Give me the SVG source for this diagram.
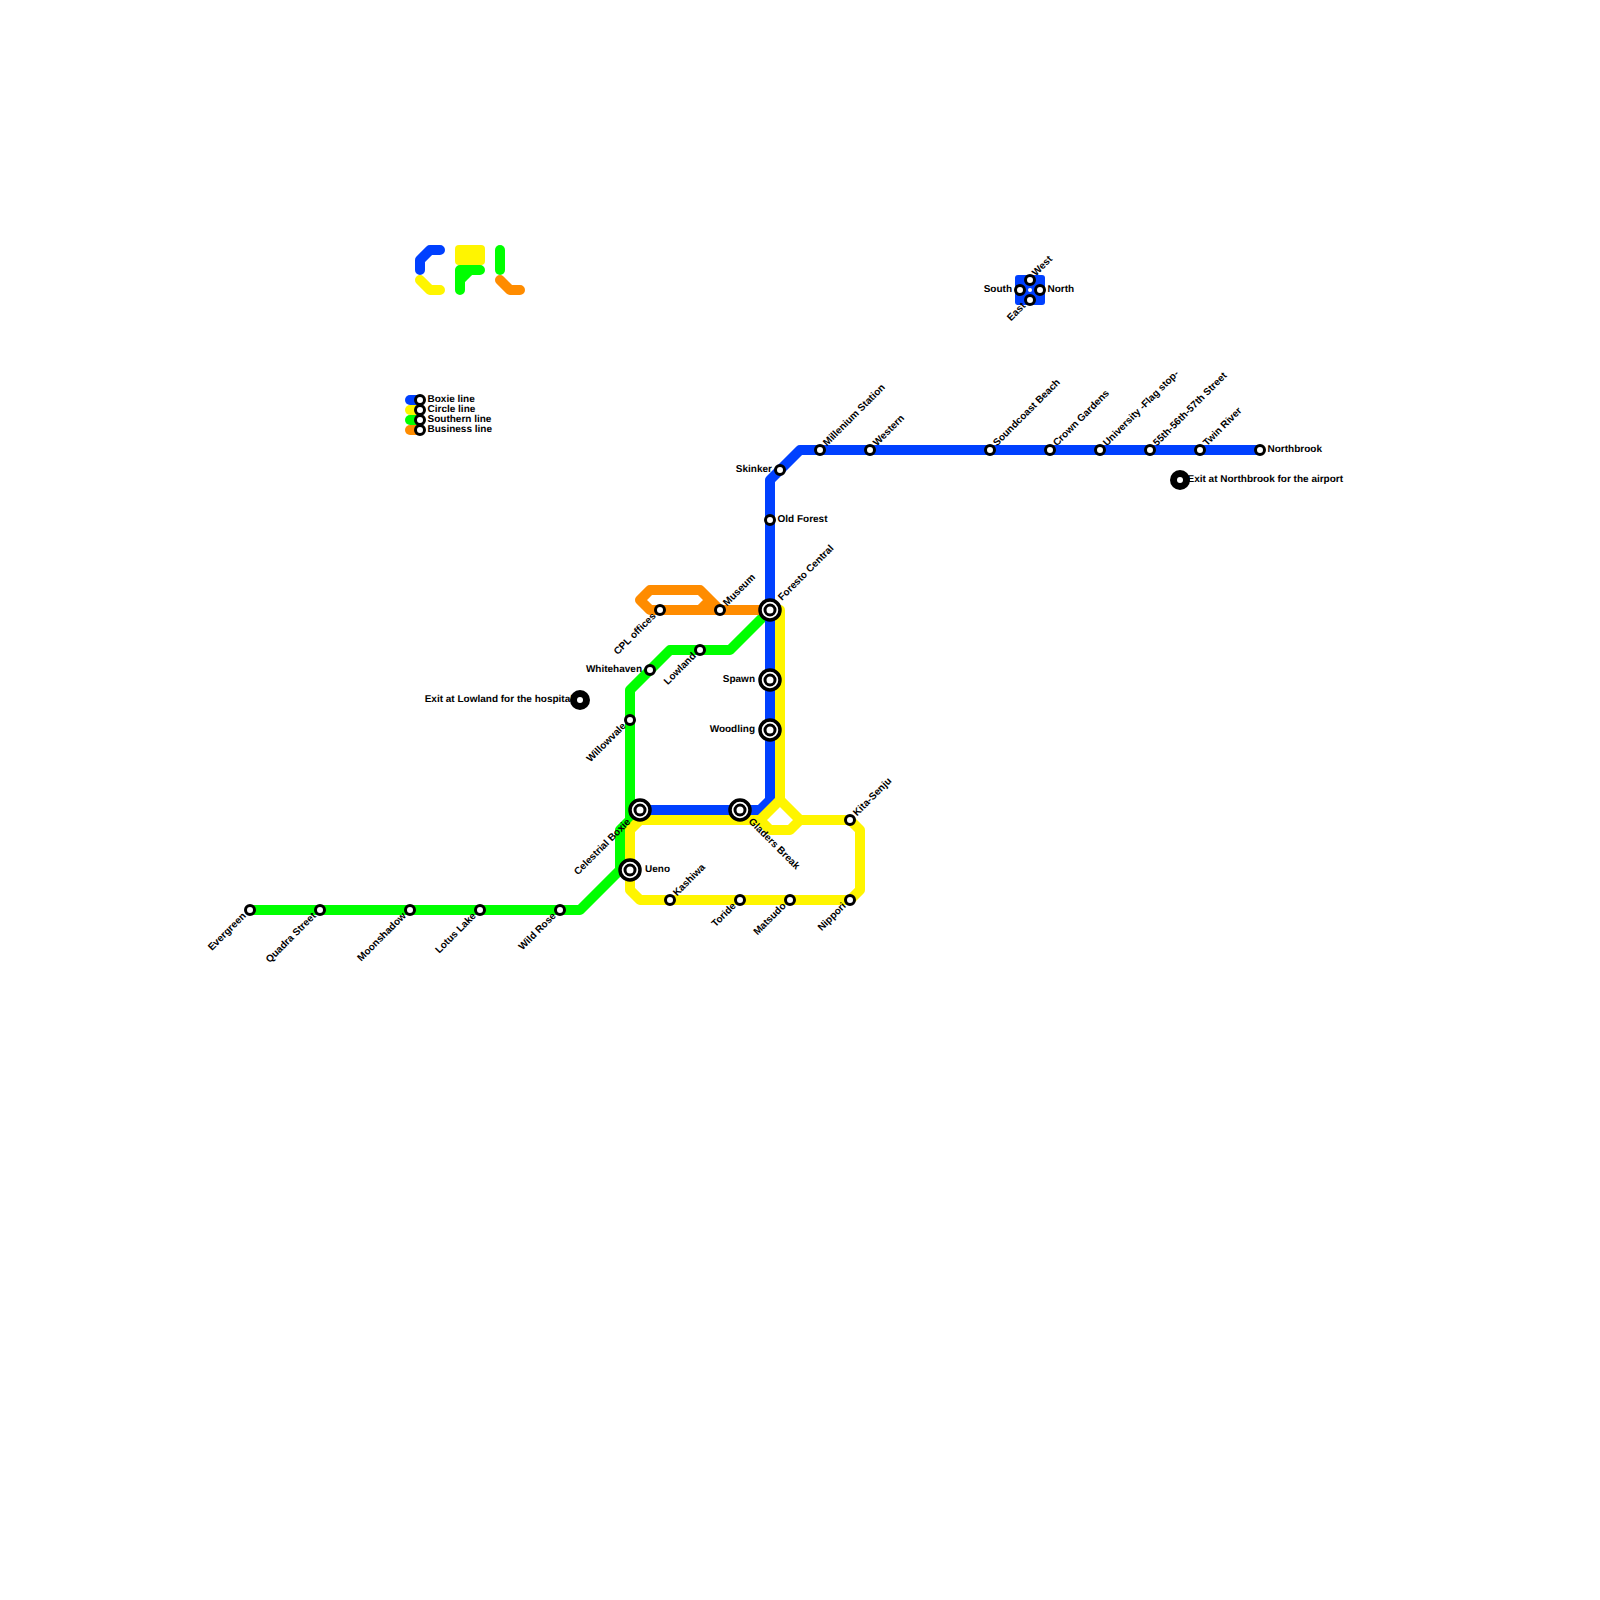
<svg xmlns="http://www.w3.org/2000/svg" width="1600" height="1600" viewBox="0 0 1600 1600">
<style>
.l{fill:none;stroke-width:10;stroke-linecap:round;stroke-linejoin:round}
.b{stroke:#0040ff}.y{stroke:#fff500}.g{stroke:#00ff00}.o{stroke:#ff8c00}
.s{fill:#fff;stroke:#000;stroke-width:3}
.r{fill:#fff;stroke:#000;stroke-width:3.5}
text{font-family:"Liberation Sans",Arial,sans-serif;font-size:10px;font-weight:700;fill:#000;text-rendering:geometricPrecision}
.e{text-anchor:end}
</style>
<defs>
<g id="st"><circle class="s" r="4.5"/></g>
<g id="ix"><circle class="r" r="10"/><circle class="s" r="5"/></g>
<g id="ex"><circle r="10" fill="#000"/><circle r="3" fill="#fff"/></g>
</defs>
<rect width="1600" height="1600" fill="#fff"/>
<g id="connectors">
<path class="l g" d="M250 910H580L620 870V830L630 820V690L670 650H730L770 610"/>
<path class="l b" d="M640 810H760L770 800V480L800 450H1260"/>
<path class="l y" d="M780 610V800L800 820H850L860 830V890L850 900H640L630 890V830L640 820H760L780 800M760 820L770 830H790L800 820"/>
<path class="l o" d="M770 610H650L640 600L650 590H700L720 610M700 610L710 600"/>
</g>
<g id="logo">
<path class="l b" d="M420 270V260L430 250H440"/>
<path class="l y" d="M420 280L430 290H440"/>
<rect x="455" y="245" width="30" height="20" rx="4" fill="#fff500"/>
<path class="l g" d="M460 290V270H480M460 280L470 270"/>
<path class="l g" d="M500 250V270"/>
<path class="l o" d="M500 280L510 290H520"/>
</g>
<g id="legend">
<path class="l b" d="M410 400H420"/><path class="l y" d="M410 410H420"/><path class="l g" d="M410 420H420"/><path class="l o" d="M410 430H420"/>
<use href="#st" x="420" y="400"/><use href="#st" x="420" y="410"/><use href="#st" x="420" y="420"/><use href="#st" x="420" y="430"/>
<text x="427.5" y="401.7">Boxie line</text><text x="427.5" y="411.7">Circle line</text><text x="427.5" y="421.7">Southern line</text><text x="427.5" y="431.7">Business line</text>
</g>
<g id="hub">
<rect x="1015" y="275" width="30" height="30" rx="3" fill="#0040ff"/>
<circle cx="1030" cy="290" r="2" fill="#fff"/>
</g>
<g id="n-west"><use href="#st" x="1030" y="280"/><text transform="translate(1036 276.5) rotate(-45)">West</text></g>
<g id="n-south"><use href="#st" x="1020" y="290"/><text class="e" x="1012" y="291.7">South</text></g>
<g id="n-north"><use href="#st" x="1040" y="290"/><text x="1047.5" y="291.7">North</text></g>
<g id="n-east"><use href="#st" x="1030" y="300"/><text class="e" transform="translate(1026 306.5) rotate(-45)">East</text></g>
<g id="n-evergreen"><use href="#st" x="250" y="910"/><text class="e" transform="translate(246.5 916.5) rotate(-45)">Evergreen</text></g>
<g id="n-quadra"><use href="#st" x="320" y="910"/><text class="e" transform="translate(316.5 916.5) rotate(-45)">Quadra Street</text></g>
<g id="n-moonshadow"><use href="#st" x="410" y="910"/><text class="e" transform="translate(406.5 916.5) rotate(-45)">Moonshadow</text></g>
<g id="n-lotus"><use href="#st" x="480" y="910"/><text class="e" transform="translate(476.5 916.5) rotate(-45)">Lotus Lake</text></g>
<g id="n-wildrose"><use href="#st" x="560" y="910"/><text class="e" transform="translate(556.5 916.5) rotate(-45)">Wild Rose</text></g>
<g id="n-ueno"><use href="#ix" x="630" y="870"/><text x="645" y="871.7">Ueno</text></g>
<g id="n-celestrial"><use href="#ix" x="640" y="810"/><text class="e" transform="translate(631 822.5) rotate(-45)">Celestrial Boxie</text></g>
<g id="n-willowvale"><use href="#st" x="630" y="720"/><text class="e" transform="translate(626.5 726.5) rotate(-45)">Willowvale</text></g>
<g id="n-whitehaven"><use href="#st" x="650" y="670"/><text class="e" x="642" y="671.7">Whitehaven</text></g>
<g id="n-lowland"><use href="#st" x="700" y="650"/><text class="e" transform="translate(696.5 656.5) rotate(-45)">Lowland</text></g>
<g id="n-cpl"><use href="#st" x="660" y="610"/><text class="e" transform="translate(656.5 616.5) rotate(-45)">CPL offices</text></g>
<g id="n-museum"><use href="#st" x="720" y="610"/><text transform="translate(727 606.5) rotate(-45)">Museum</text></g>
<g id="n-foresto"><use href="#ix" x="770" y="610"/><text transform="translate(782 601) rotate(-45)">Foresto Central</text></g>
<g id="n-spawn"><use href="#ix" x="770" y="680"/><text class="e" x="755" y="681.7">Spawn</text></g>
<g id="n-woodling"><use href="#ix" x="770" y="730"/><text class="e" x="755" y="731.7">Woodling</text></g>
<g id="n-oldforest"><use href="#st" x="770" y="520"/><text x="777.5" y="521.7">Old Forest</text></g>
<g id="n-skinker"><use href="#st" x="780" y="470"/><text class="e" x="772" y="471.7">Skinker</text></g>
<g id="n-millenium"><use href="#st" x="820" y="450"/><text transform="translate(827 446.5) rotate(-45)">Millenium Station</text></g>
<g id="n-western"><use href="#st" x="870" y="450"/><text transform="translate(877 446.5) rotate(-45)">Western</text></g>
<g id="n-soundcoast"><use href="#st" x="990" y="450"/><text transform="translate(997 446.5) rotate(-45)">Soundcoast Beach</text></g>
<g id="n-crown"><use href="#st" x="1050" y="450"/><text transform="translate(1057 446.5) rotate(-45)">Crown Gardens</text></g>
<g id="n-university"><use href="#st" x="1100" y="450"/><text transform="translate(1107 446.5) rotate(-45)">University -Flag stop-</text></g>
<g id="n-55th"><use href="#st" x="1150" y="450"/><text transform="translate(1157 446.5) rotate(-45)">55th-56th-57th Street</text></g>
<g id="n-twin"><use href="#st" x="1200" y="450"/><text transform="translate(1207 446.5) rotate(-45)">Twin River</text></g>
<g id="n-northbrook"><use href="#st" x="1260" y="450"/><text x="1267.5" y="451.7">Northbrook</text></g>
<g id="n-gladers"><use href="#ix" x="740" y="810"/><text transform="translate(748 822) rotate(45)">Gladers Break</text></g>
<g id="n-kita"><use href="#st" x="850" y="820"/><text transform="translate(857 816.5) rotate(-45)">Kita-Senju</text></g>
<g id="n-nippori"><use href="#st" x="850" y="900"/><text class="e" transform="translate(846.5 906.5) rotate(-45)">Nippori</text></g>
<g id="n-matsudo"><use href="#st" x="790" y="900"/><text class="e" transform="translate(786.5 906.5) rotate(-45)">Matsudo</text></g>
<g id="n-toride"><use href="#st" x="740" y="900"/><text class="e" transform="translate(736.5 906.5) rotate(-45)">Toride</text></g>
<g id="n-kashiwa"><use href="#st" x="670" y="900"/><text transform="translate(677 896.5) rotate(-45)">Kashiwa</text></g>
<g id="n-exit-lowland"><text class="e" x="573" y="701.7">Exit at Lowland for the hospital</text><use href="#ex" x="580" y="700"/></g>
<g id="n-exit-northbrook"><text x="1187.5" y="481.7">Exit at Northbrook for the airport</text><use href="#ex" x="1180" y="480"/></g>
</svg>
